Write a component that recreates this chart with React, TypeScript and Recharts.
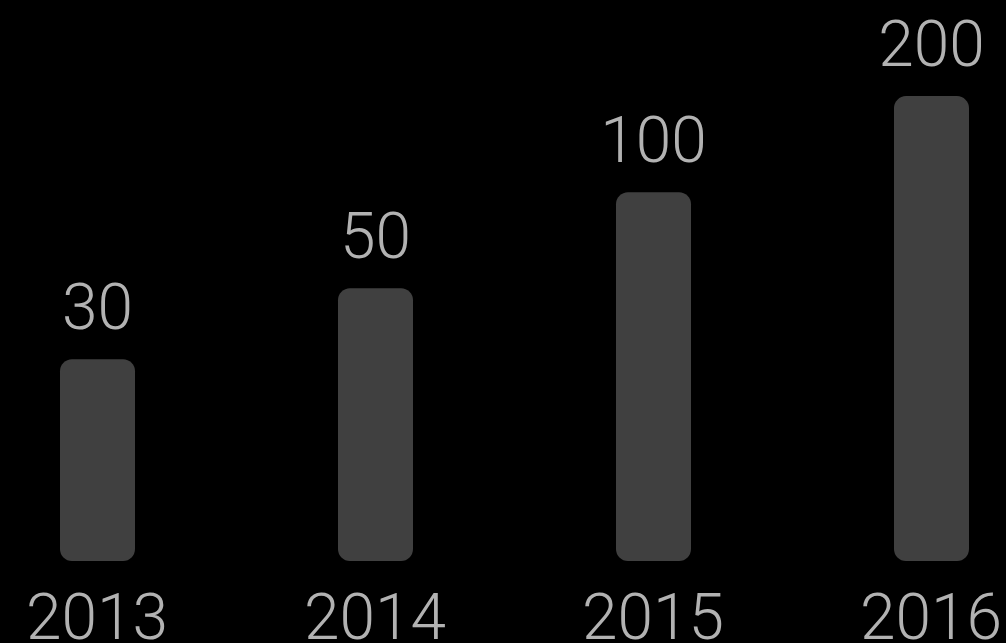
import { BarChart, Bar, XAxis, YAxis, LabelList } from 'recharts';

// values
const years = ['2013', '2014', '2015', '2016'];
const values = [30, 50, 100, 200];

const data = years.map((year, i) => ({ year, value: values[i] }));

const textColor = '#b2b2b2';
const barColor = '#404040';
const font = 'Roboto, "Noto Sans", sans-serif';

export default function App() {
    return (
        <div
            style={{
                position: 'fixed',
                left: 0,
                top: 0,
                width: 1006,
                height: 643,
                overflow: 'hidden',
                background: '#000'
            }}
        >
            <div style={{ marginLeft: -42 }}>
                <BarChart
                    width={1112}
                    height={643}
                    data={data}
                    margin={{ top: 0, right: 0, bottom: 0, left: 0 }}
                    barSize={75}
                >
                    <XAxis
                        dataKey="year"
                        axisLine={false}
                        tickLine={false}
                        tickSize={0}
                        tickMargin={33}
                        height={82}
                        interval={0}
                        tick={{ fill: textColor, fontSize: 64, fontFamily: font, fontWeight: 300 }}
                    />
                    {/* heights in the picture grow roughly with log of the value */}
                    <YAxis hide type="number" scale="log" domain={[7, 400]} allowDataOverflow />
                    <Bar dataKey="value" fill={barColor} radius={12} isAnimationActive={false}>
                        <LabelList
                            dataKey="value"
                            position="top"
                            offset={30}
                            fill={textColor}
                            fontSize={64}
                            fontFamily={font}
                            fontWeight={300}
                        />
                    </Bar>
                </BarChart>
            </div>
        </div>
    );
}
